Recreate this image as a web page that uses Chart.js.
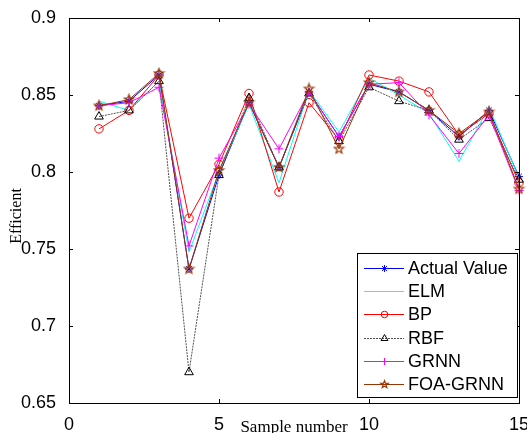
<!DOCTYPE html>
<html>
<head>
<meta charset="utf-8">
<script src="https://cdn.jsdelivr.net/npm/chart.js@4/dist/chart.umd.min.js"></script>
<style>
html,body{margin:0;padding:0;background:#fff;}
canvas{display:block;}
</style>
</head>
<body>
<canvas id="c" width="527" height="433"></canvas>
<script>
// ---- data ----
const samples = [1,2,3,4,5,6,7,8,9,10,11,12,13,14,15];
const actualValue = [0.843,0.846,0.863,0.737,0.798,0.845,0.803,0.852,0.823,0.857,0.852,0.840,0.823,0.840,0.797];
const elm         = [0.846,0.840,0.859,0.748,0.800,0.844,0.793,0.853,0.826,0.861,0.850,0.838,0.807,0.842,0.796];
const bp          = [0.828,0.840,0.863,0.770,0.805,0.851,0.787,0.845,0.821,0.863,0.859,0.852,0.824,0.838,0.793];
const rbf         = [0.836,0.840,0.859,0.670,0.798,0.848,0.803,0.851,0.820,0.855,0.846,0.840,0.821,0.835,0.795];
const grnn        = [0.843,0.845,0.855,0.752,0.809,0.844,0.815,0.852,0.823,0.857,0.858,0.837,0.812,0.837,0.788];
const foaGrnn     = [0.843,0.847,0.864,0.737,0.801,0.845,0.803,0.854,0.815,0.858,0.852,0.840,0.825,0.839,0.789];
const seriesLabels = ['Actual Value','ELM','BP','RBF','GRNN','FOA-GRNN'];
const xTicks = [0,5,10,15];
const xTickLabels = ['0','5','10','15'];
const yTicks = [0.65,0.7,0.75,0.8,0.85,0.9];
const yTickLabels = ['0.65','0.7','0.75','0.8','0.85','0.9'];
const xTitle = 'Sample number';
const yTitle = 'Efficient';

const COL = {
  blue:'rgb(0,0,255)', cyan:'rgb(0,255,255)', red:'rgb(255,0,0)',
  gray:'rgb(80,80,80)', black:'rgb(0,0,0)', magenta:'rgb(255,0,255)', brown:'rgb(153,51,0)'
};

function pts(arr){ return samples.map((s,i)=>({x:s,y:arr[i]})); }

function pentagram(color, r){
  const c = document.createElement('canvas');
  const s = Math.ceil(2*r+3);
  c.width = s; c.height = s;
  const g = c.getContext('2d');
  g.strokeStyle = color; g.lineWidth = 1.2;
  g.beginPath();
  for(let i=0;i<10;i++){
    const a = -Math.PI/2 + i*Math.PI/5;
    const rr = (i%2) ? r*0.42 : r;
    const px = s/2 + rr*Math.cos(a), py = s/2 + rr*Math.sin(a);
    if(i===0) g.moveTo(px,py); else g.lineTo(px,py);
  }
  g.closePath(); g.stroke();
  return c;
}

const styles = [
  {line:COL.blue,    marker:COL.blue,    fill:COL.blue,    pointStyle:'star',     r:4,   lr:3.5, dash:[]},
  {line:COL.cyan,    marker:COL.cyan,    fill:COL.cyan,    pointStyle:false,      r:0,   lr:0,   dash:[]},
  {line:COL.red,     marker:COL.red,     fill:'rgba(0,0,0,0)', pointStyle:'circle', r:4.2, lr:3.3, dash:[]},
  {line:COL.gray,    marker:COL.black,   fill:'rgba(0,0,0,0)', pointStyle:'triangle', r:5, lr:4, dash:[2,1]},
  {line:COL.magenta, marker:COL.magenta, fill:COL.magenta, pointStyle:'cross',    r:4.5, lr:3.5, dash:[]},
  {line:COL.brown,   marker:COL.brown,   fill:COL.brown,   pointStyle:pentagram(COL.brown,5), r:5, lr:5, dash:[]}
];
const legendPentagram = pentagram(COL.brown,3.8);
const seriesValues = [actualValue, elm, bp, rbf, grnn, foaGrnn];

const datasets = seriesValues.map((vals,i)=>({
  label:seriesLabels[i], data:pts(vals),
  borderColor:styles[i].line, backgroundColor:styles[i].fill,
  pointBorderColor:styles[i].marker, pointBackgroundColor:styles[i].fill,
  pointStyle:styles[i].pointStyle, pointRadius:styles[i].r,
  borderDash:styles[i].dash, borderWidth:1, pointBorderWidth:1,
  tension:0, fill:false, clip:false, order:6-i
}));

const frame = {
  id:'frame',
  afterDraw(chart){
    const {ctx, chartArea:a, scales} = chart;
    const xs = scales.x, ys = scales.y;
    ctx.save();
    ctx.strokeStyle='#000'; ctx.lineWidth=1;
    ctx.strokeRect(Math.round(a.left)+0.5, Math.round(a.top)+0.5, Math.round(a.right-a.left), Math.round(a.bottom-a.top));
    const tl = 4;
    ctx.beginPath();
    xTicks.forEach(v=>{
      const px = Math.round(xs.getPixelForValue(v))+0.5;
      ctx.moveTo(px,a.bottom); ctx.lineTo(px,a.bottom-tl);
      ctx.moveTo(px,a.top); ctx.lineTo(px,a.top+tl);
    });
    yTicks.forEach(v=>{
      const py = Math.round(ys.getPixelForValue(v))+0.5;
      ctx.moveTo(a.left,py); ctx.lineTo(a.left+tl,py);
      ctx.moveTo(a.right,py); ctx.lineTo(a.right-tl,py);
    });
    ctx.stroke();

    // axis titles
    ctx.fillStyle='#000';
    ctx.font='17px "Liberation Serif"';
    ctx.textAlign='center'; ctx.textBaseline='alphabetic';
    ctx.fillText(xTitle,(a.left+a.right)/2,432);
    ctx.save();
    ctx.translate(21,216); ctx.rotate(-Math.PI/2);
    ctx.font='16px "Liberation Serif"';
    ctx.fillText(yTitle,0,0);
    ctx.restore();

    // legend
    const L={x:357,y:253,w:160,h:144};
    ctx.fillStyle='#fff';
    ctx.fillRect(L.x,L.y,L.w,L.h);
    ctx.strokeStyle='#000'; ctx.lineWidth=1;
    ctx.strokeRect(L.x+0.5,L.y+0.5,L.w,L.h);
    const rowY=[268,291,314,338,361,384];
    seriesLabels.forEach((lab,i)=>{
      const y=rowY[i]+0.5, st=styles[i];
      ctx.save();
      ctx.strokeStyle=st.line; ctx.lineWidth=1;
      ctx.setLineDash(st.dash);
      ctx.beginPath(); ctx.moveTo(364,y); ctx.lineTo(404,y); ctx.stroke();
      ctx.setLineDash([]);
      if(st.pointStyle){
        ctx.strokeStyle=st.marker; ctx.fillStyle=st.fill; ctx.lineWidth=1;
        const ps = (i===5) ? legendPentagram : st.pointStyle;
        Chart.helpers.drawPoint(ctx,{pointStyle:ps,radius:st.lr,rotation:0,borderWidth:1},384.5,y);
      }
      ctx.restore();
      ctx.fillStyle='#000';
      ctx.font='18px "Liberation Sans"';
      ctx.textAlign='left'; ctx.textBaseline='middle';
      ctx.fillText(lab,408,y+0.5);
    });
    ctx.restore();
  }
};

new Chart(document.getElementById('c'),{
  type:'line',
  data:{datasets},
  options:{
    responsive:false, devicePixelRatio:1, animation:false,
    layout:{padding:{left:0,right:8,top:18,bottom:0}},
    plugins:{legend:{display:false},tooltip:{enabled:false},colors:{enabled:false}},
    scales:{
      x:{type:'linear',min:0,max:15,
        afterBuildTicks(s){ s.ticks = xTicks.map(v=>({value:v})); },
        afterFit(s){ s.height=30; s.paddingLeft=0; s.paddingRight=0; },
        grid:{display:false}, border:{display:false},
        ticks:{color:'#000',font:{family:'Liberation Sans',size:18},padding:3,maxRotation:0,autoSkip:false,
          callback:(v)=>xTickLabels[xTicks.indexOf(v)]}
      },
      y:{type:'linear',min:0.65,max:0.9,
        afterBuildTicks(s){ s.ticks = yTicks.map(v=>({value:v})); },
        afterFit(s){ s.width=69; s.paddingTop=0; s.paddingBottom=0; },
        grid:{display:false}, border:{display:false},
        ticks:{color:'#000',font:{family:'Liberation Sans',size:18},padding:5,autoSkip:false,
          callback:(v)=>yTickLabels[yTicks.indexOf(v)]}
      }
    }
  },
  plugins:[frame]
});
</script>
</body>
</html>
